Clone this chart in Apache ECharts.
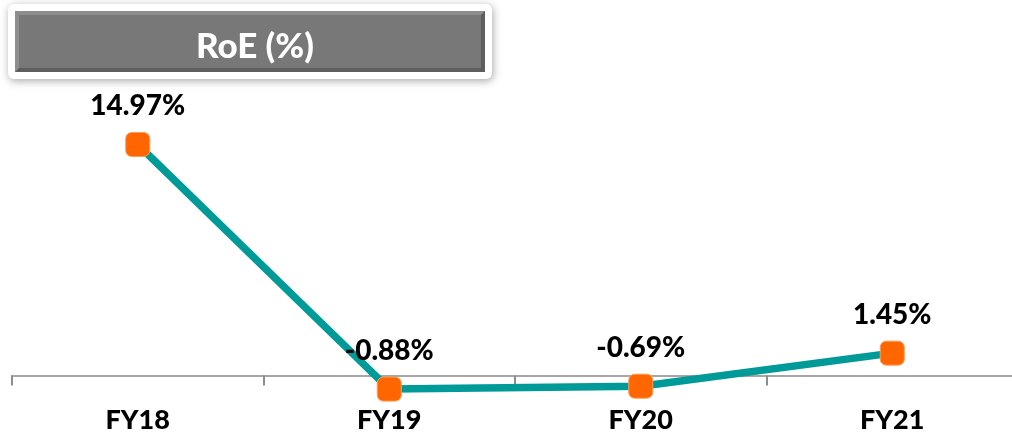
<!DOCTYPE html>
<html>
<head>
<meta charset="utf-8">
<script src="https://cdn.jsdelivr.net/npm/echarts@6/dist/echarts.min.js"></script>
<style>
html,body{margin:0;padding:0;background:#fff;}
#chart{width:1012px;height:433px;}
</style>
</head>
<body>
<div id="chart"></div>
<script>
const chartTitle = 'RoE (%)';
const categories = ['FY18', 'FY19', 'FY20', 'FY21'];
const roeValues = [14.97, -0.88, -0.69, 1.45];

const chart = echarts.init(document.getElementById('chart'), null, {renderer: 'canvas'});
const font = 'Lato, "Open Sans", "DejaVu Sans", sans-serif';

chart.setOption({
  animation: false,
  backgroundColor: '#ffffff',
  title: {
    text: chartTitle,
    left: 250,
    top: 42,
    textAlign: 'center',
    textVerticalAlign: 'middle',
    textStyle: {color: '#ffffff', fontFamily: font, fontWeight: 900, fontSize: 35}
  },
  graphic: [
    {type: 'rect', z: -1, shape: {x: 8, y: 4, width: 484, height: 75, r: 6},
     style: {fill: '#ffffff', shadowBlur: 8, shadowOffsetX: 1, shadowOffsetY: 2, shadowColor: 'rgba(0,0,0,0.35)'}},
    {type: 'rect', z: -1, shape: {x: 15, y: 11, width: 470, height: 61},
     style: {fill: '#5e5e5e'}},
    {type: 'polygon', z: -1, shape: {points: [[15, 11], [485, 11], [481, 15], [19, 15], [19, 68], [15, 72]]},
     style: {fill: '#8e8e8e'}},
    {type: 'rect', z: -1, shape: {x: 19, y: 15, width: 462, height: 53},
     style: {fill: '#787878'}}
  ],
  grid: {left: 12, right: -6, top: 128.6, bottom: 26.6, containLabel: false, outerBoundsMode: 'none'},
  xAxis: {
    type: 'category',
    data: categories,
    boundaryGap: true,
    axisLine: {onZero: true, lineStyle: {color: '#a6a6a6', width: 2}},
    axisTick: {show: true, length: 10, lineStyle: {color: '#8c8c8c', width: 2}},
    axisLabel: {show: true, interval: 0, hideOverlap: false, margin: 0,
      color: '#000000', fontFamily: font, fontWeight: 900, fontSize: 27}
  },
  yAxis: {
    type: 'value',
    min: -2,
    max: 16,
    show: false,
    splitLine: {show: false}
  },
  series: [{
    type: 'line',
    data: roeValues,
    lineStyle: {color: '#009a98', width: 7.5},
    itemStyle: {color: '#ff6600', borderColor: '#ff9a55', borderWidth: 1},
    symbol: 'roundRect',
    symbolSize: 24,
    showAllSymbol: true,
    label: {
      show: true,
      position: 'top',
      distance: 12,
      formatter: p => p.value.toFixed(2) + '%',
      color: '#000000',
      fontFamily: font,
      fontWeight: 900,
      fontSize: 28
    },
    z: 3
  }]
});
</script>
</body>
</html>
